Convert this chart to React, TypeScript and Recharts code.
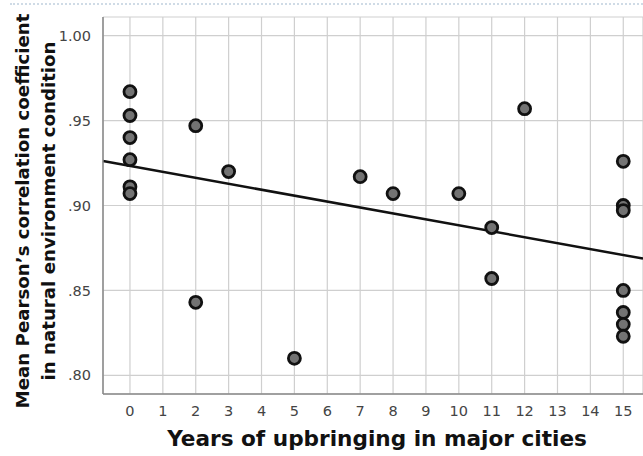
import React from "react";
import {
  ScatterChart,
  Scatter,
  XAxis,
  YAxis,
  CartesianGrid,
  ReferenceLine,
  Label,
} from "recharts";

// years of upbringing in major cities (one entry per participant)
const years = [0, 0, 0, 0, 0, 0, 2, 2, 3, 5, 7, 8, 10, 11, 11, 12, 15, 15, 15, 15, 15, 15, 15];
// mean Pearson's r in the natural environment condition
const coefficients = [
  0.967, 0.953, 0.940, 0.927, 0.911, 0.907,
  0.947, 0.843,
  0.920,
  0.810,
  0.917,
  0.907,
  0.907,
  0.887, 0.857,
  0.957,
  0.926, 0.900, 0.897, 0.850, 0.837, 0.830, 0.823,
];
const xTicks = [0, 1, 2, 3, 4, 5, 6, 7, 8, 9, 10, 11, 12, 13, 14, 15];
const yTicks = [0.8, 0.85, 0.9, 0.95, 1.0];

const X_MIN = -0.82;
const X_MAX = 15.6;
const Y_MIN = 0.789;
const Y_MAX = 1.011;

const points = years.map((x, i) => ({ x, y: coefficients[i] }));

// least squares fit line
function fitLine(xs: number[], ys: number[]) {
  const n = xs.length;
  const mx = xs.reduce((a, b) => a + b, 0) / n;
  const my = ys.reduce((a, b) => a + b, 0) / n;
  let sxy = 0;
  let sxx = 0;
  for (let i = 0; i < n; i++) {
    sxy += (xs[i] - mx) * (ys[i] - my);
    sxx += (xs[i] - mx) * (xs[i] - mx);
  }
  const slope = sxy / sxx;
  return { slope, intercept: my - slope * mx };
}

const fit = fitLine(years, coefficients);
const fitAt = (x: number) => fit.intercept + fit.slope * x;

const FONT = "'DejaVu Sans', sans-serif";

const formatY = (v: number) => (v >= 1 ? v.toFixed(2) : v.toFixed(2).replace(/^0/, ""));

const Dot = (props: any) => (
  <circle cx={props.cx} cy={props.cy} r={6} fill="#737373" stroke="#111" strokeWidth={2.8} />
);

const YTitle = () => {
  const cy = 211;
  return (
    <g fontFamily={FONT} fontWeight="bold" fontSize={18.2} fill="#111">
      <text x={22} y={cy} transform={`rotate(-90, 22, ${cy})`} textAnchor="middle" dominantBaseline="central">
        Mean Pearson’s correlation coefficient
      </text>
      <text x={48} y={cy} transform={`rotate(-90, 48, ${cy})`} textAnchor="middle" dominantBaseline="central">
        in natural environment condition
      </text>
    </g>
  );
};

const XTitle = () => (
  <text x={377} y={438} textAnchor="middle" dominantBaseline="central" fontFamily={FONT} fontWeight="bold" fontSize={21.6} fill="#111">
    Years of upbringing in major cities
  </text>
);

export default function App() {
  return (
    <div style={{ position: "absolute", left: 0, top: 0, width: 643, height: 456, background: "#fff" }}>
      <div style={{ position: "absolute", left: 10, right: 0, top: 3, borderTop: "2px dotted #cfdbe6" }} />
      <ScatterChart width={643} height={456} margin={{ top: 17, right: 0, bottom: 0, left: 0 }}>
        <CartesianGrid stroke="#cfcfcf" strokeWidth={1.2} />
        <XAxis
          type="number"
          dataKey="x"
          domain={[X_MIN, X_MAX]}
          ticks={xTicks}
          allowDataOverflow
          height={62}
          tickLine={false}
          axisLine={{ stroke: "#888", strokeWidth: 1.5 }}
          tick={{ fontFamily: FONT, fontSize: 14.5, fill: "#444" }}
          tickMargin={6}
          interval={0}
        >
          <Label content={<XTitle />} />
        </XAxis>
        <YAxis
          type="number"
          dataKey="y"
          domain={[Y_MIN, Y_MAX]}
          ticks={yTicks}
          allowDataOverflow
          width={103}
          tickLine={false}
          axisLine={{ stroke: "#888", strokeWidth: 1.5 }}
          tick={{ fontFamily: FONT, fontSize: 14.5, fill: "#444" }}
          tickFormatter={formatY}
          tickMargin={6}
          interval={0}
        >
          <Label content={<YTitle />} />
        </YAxis>
        <ReferenceLine
          segment={[
            { x: X_MIN, y: fitAt(X_MIN) },
            { x: X_MAX, y: fitAt(X_MAX) },
          ]}
          stroke="#111"
          strokeWidth={2.5}
        />
        <Scatter data={points} shape={<Dot />} isAnimationActive={false} />
      </ScatterChart>
    </div>
  );
}
